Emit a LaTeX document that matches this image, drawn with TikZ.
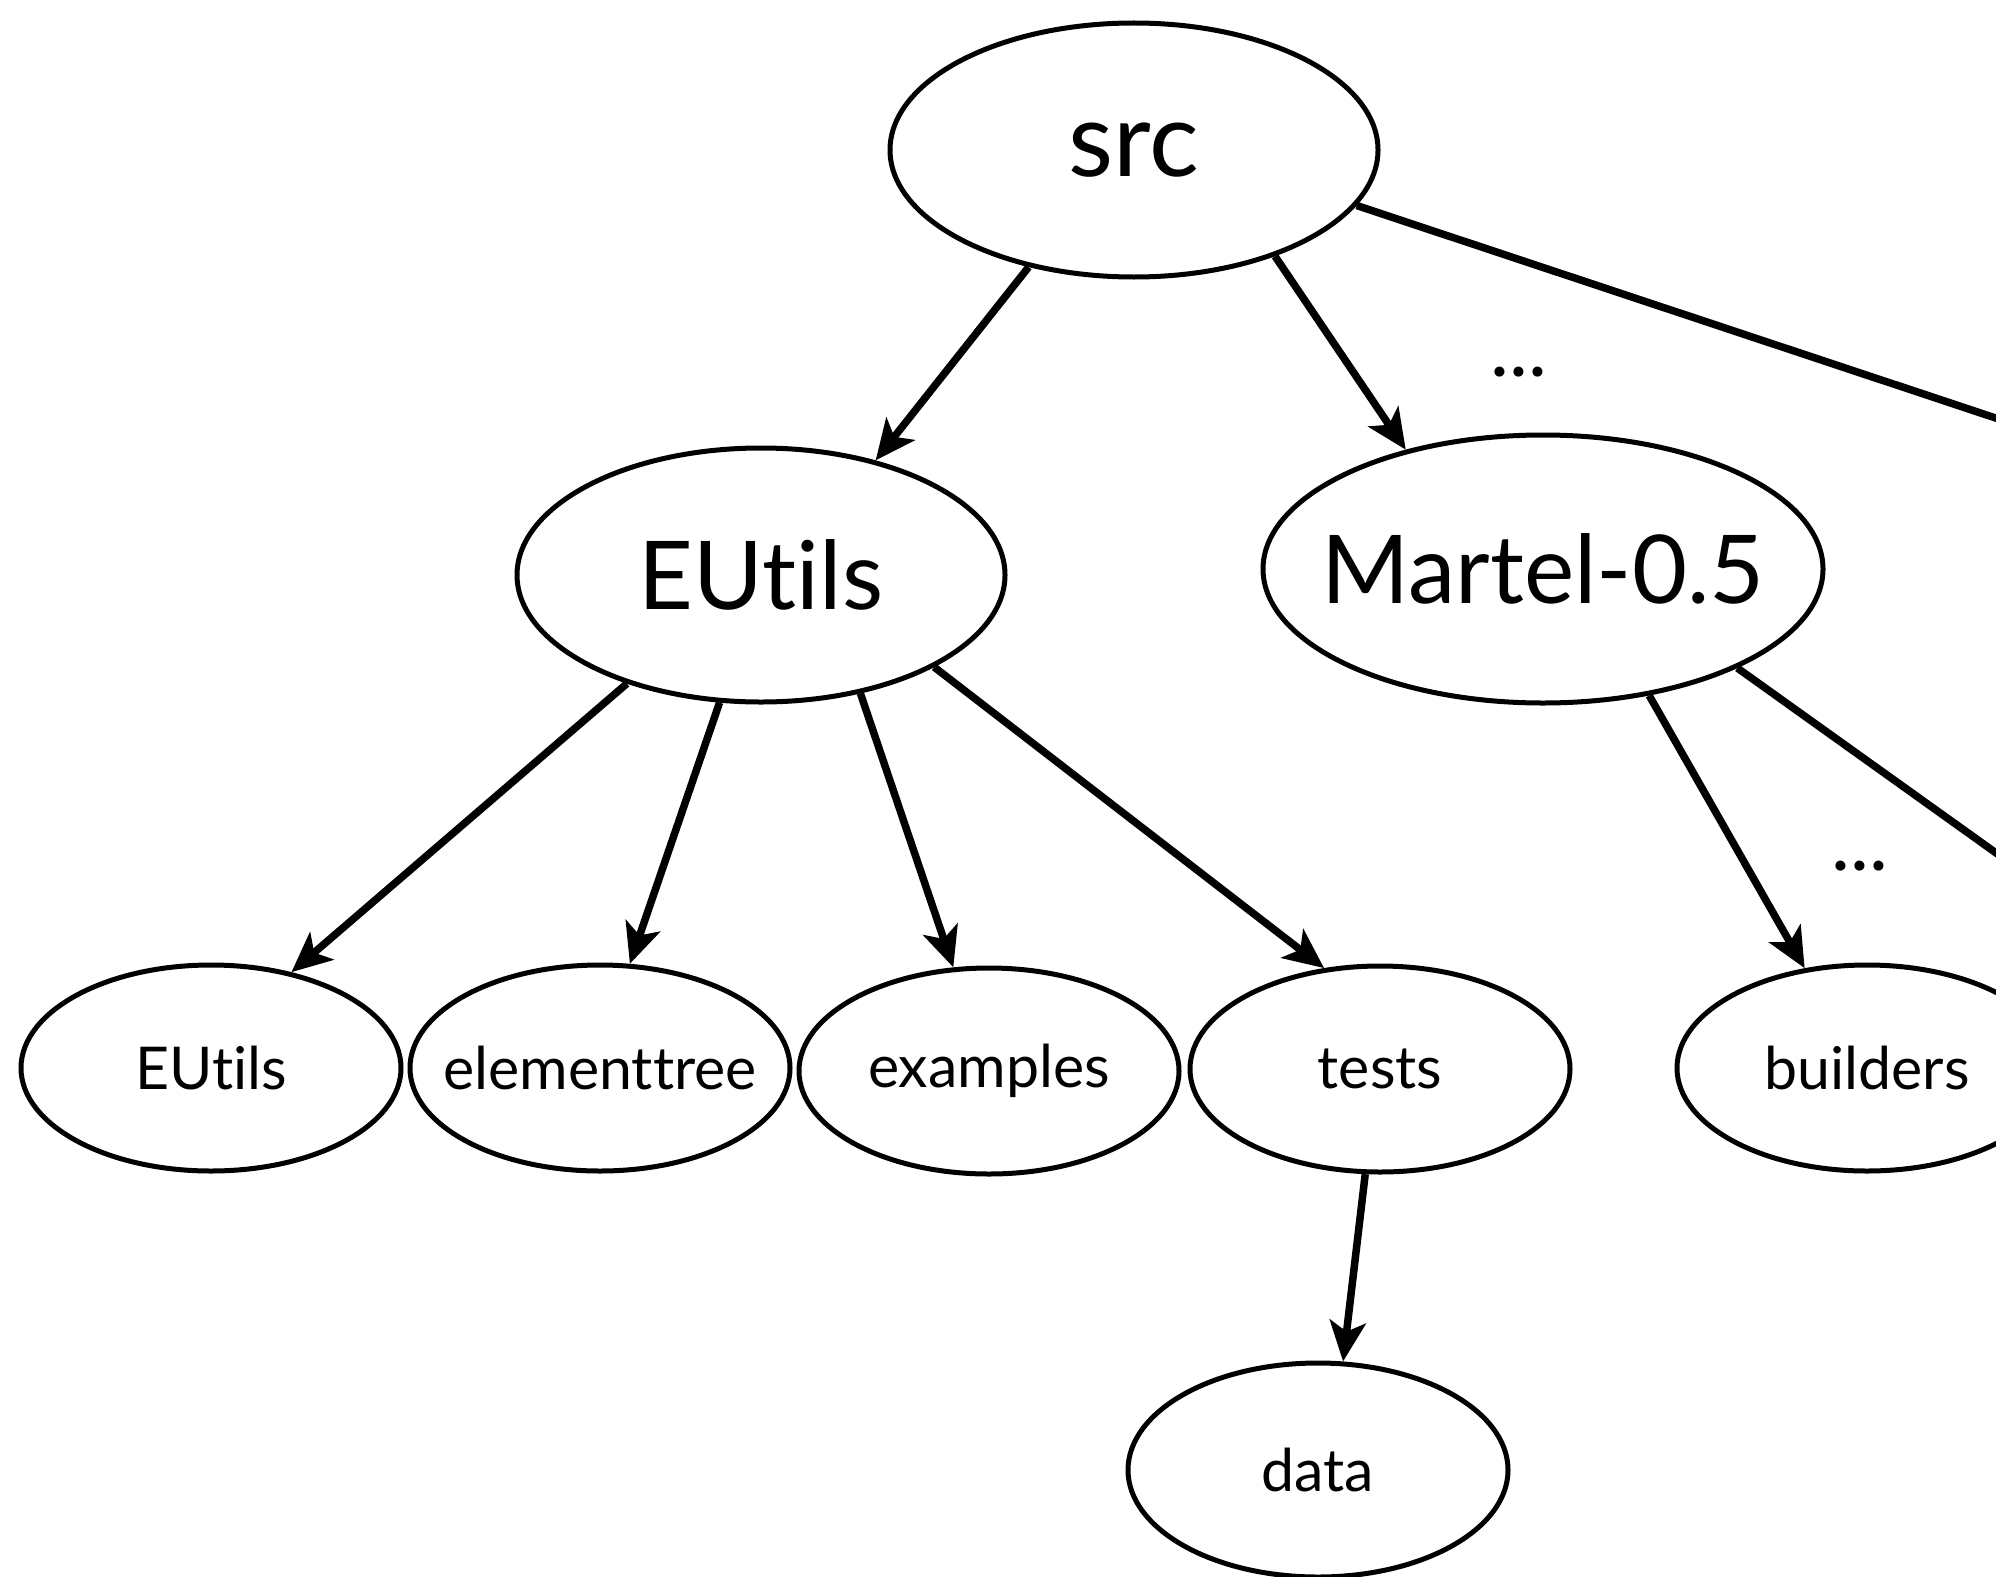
\documentclass[tikz,border=0pt]{standalone}
\usepackage{fontspec}
\setmainfont{Lato}[Ligatures={NoCommon}]
\usetikzlibrary{shapes.geometric,arrows.meta}
\newcommand{\nolab}[1]{\makebox[0pt]{#1}}
\tikzset{
  bignode/.style={ellipse,draw,line width=5pt,inner sep=0pt,font=\fontsize{95}{110}\selectfont},
  smallnode/.style={ellipse,draw,line width=5pt,inner sep=0pt,minimum width=380pt,minimum height=206pt,font=\fontsize{59}{70}\selectfont},
  conn/.style={line width=7.5pt,-{Stealth[length=40pt,width=36pt,inset=10pt]}},
  plainconn/.style={line width=7.5pt},
  dots/.style={font=\fontsize{80}{80}\selectfont}
}
\begin{document}
\begin{tikzpicture}[x=1pt,y=-1pt]
\clip (0,0) rectangle (1996,1576);
\useasboundingbox (0,0) rectangle (1996,1576);
\node[bignode,minimum width=488pt,minimum height=254pt,font=\fontsize{104}{120}\selectfont] (src) at (1134,150) {\nolab{src}};
\node[bignode,minimum width=488pt,minimum height=254pt] (eu) at (761,575) {\nolab{EUtils}};
\node[bignode,minimum width=560pt,minimum height=268pt] (mar) at (1543,569) {\nolab{Martel-0.5}};
\node[smallnode] (eus) at (211,1068) {\nolab{EUtils}};
\node[smallnode] (et) at (600,1068) {\nolab{elementtree}};
\node[smallnode] (ex) at (989,1071) {\nolab{examples}};
\node[smallnode] (te) at (1380,1069) {\nolab{tests}};
\node[smallnode] (bu) at (1867,1068) {\nolab{builders}};
\node[smallnode,minimum height=214pt] (da) at (1318,1470) {\nolab{data}};
\node[dots] (d1) at (1519,372) {...};
\node[dots] (d2) at (1860,866) {...};
\coordinate (off1) at (2164,474);
\coordinate (off2) at (2164,973);
\draw[conn] (src.-132.7) -- (eu.45.6);
\draw[conn] (src.-37.7) -- (mar.139.6);
\draw[plainconn] (src.-14.3) -- (off1);
\draw[conn] (eu.-141.9) -- (eus.50.1);
\draw[conn] (eu.-108.8) -- (et.74.4);
\draw[conn] (eu.-50.9) -- (ex.109);
\draw[conn] (eu.-28.4) -- (te.119.8);
\draw[conn] (mar.-50.3) -- (bu.122.7);
\draw[plainconn] (mar.-27) -- (off2);
\draw[conn] (te.-98.3) -- (da.77);
\end{tikzpicture}
\end{document}
